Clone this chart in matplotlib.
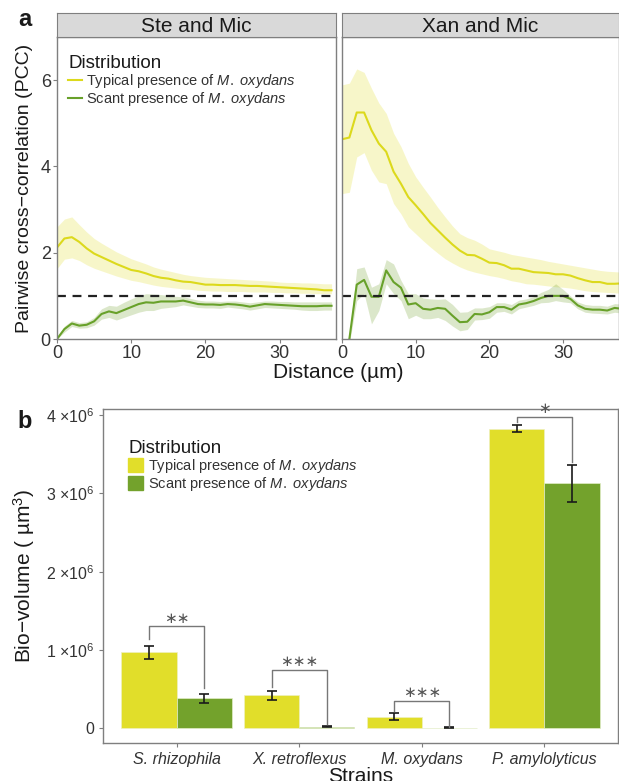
import numpy as np
import matplotlib
matplotlib.use("Agg")
import matplotlib.pyplot as plt
from matplotlib.lines import Line2D
from matplotlib.patches import Patch

plt.rcParams['font.family'] = ['Liberation Sans', 'DejaVu Sans']
plt.rcParams['mathtext.fontset'] = 'custom'
plt.rcParams['mathtext.rm'] = 'Liberation Sans'
plt.rcParams['mathtext.it'] = 'Liberation Sans:italic'

YELLOW = '#e1de2a'
GREEN = '#73a22c'
LINE_Y = '#dcd91c'
LINE_G = '#68a12a'
GRID = '#7f7f7f'
TXT = '#333333'

# ---- panel a data: pairwise cross-correlation vs distance ----
ste_dist = np.arange(0, 38)
ste_typ = [2.12, 2.33, 2.36, 2.25, 2.10, 1.98, 1.90, 1.82, 1.74, 1.67,
           1.60, 1.57, 1.52, 1.46, 1.42, 1.40, 1.36, 1.33, 1.32, 1.29,
           1.26, 1.26, 1.25, 1.25, 1.25, 1.24, 1.23, 1.23, 1.22, 1.21,
           1.20, 1.19, 1.18, 1.17, 1.16, 1.15, 1.13, 1.13]
ste_typ_hi = [2.60, 2.78, 2.83, 2.65, 2.48, 2.33, 2.22, 2.12, 2.02, 1.94,
              1.86, 1.80, 1.74, 1.67, 1.62, 1.58, 1.54, 1.50, 1.47, 1.45,
              1.43, 1.42, 1.41, 1.40, 1.39, 1.38, 1.37, 1.36, 1.35, 1.34,
              1.32, 1.31, 1.31, 1.30, 1.30, 1.29, 1.28, 1.28]
ste_typ_lo = [1.63, 1.85, 1.88, 1.82, 1.72, 1.64, 1.58, 1.52, 1.46, 1.41,
              1.36, 1.33, 1.29, 1.25, 1.22, 1.20, 1.18, 1.16, 1.15, 1.13,
              1.12, 1.11, 1.11, 1.10, 1.10, 1.10, 1.09, 1.09, 1.09, 1.08,
              1.08, 1.07, 1.07, 1.06, 1.06, 1.05, 1.05, 1.05]
ste_sca = [0.00, 0.23, 0.36, 0.31, 0.33, 0.41, 0.58, 0.64, 0.60, 0.67,
           0.74, 0.81, 0.85, 0.84, 0.87, 0.87, 0.87, 0.89, 0.85, 0.81,
           0.80, 0.80, 0.79, 0.81, 0.80, 0.78, 0.75, 0.78, 0.81, 0.80,
           0.79, 0.78, 0.77, 0.76, 0.76, 0.76, 0.77, 0.77]
ste_sca_hi = [0.05, 0.30, 0.43, 0.38, 0.40, 0.50, 0.70, 0.78, 0.76, 0.85,
              0.93, 1.00, 1.05, 1.04, 1.03, 1.01, 0.99, 0.98, 0.94, 0.90,
              0.88, 0.88, 0.87, 0.88, 0.88, 0.86, 0.84, 0.86, 0.88, 0.88,
              0.87, 0.87, 0.86, 0.86, 0.86, 0.86, 0.86, 0.86]
ste_sca_lo = [0.00, 0.16, 0.29, 0.25, 0.26, 0.32, 0.46, 0.50, 0.44, 0.50,
              0.56, 0.62, 0.66, 0.66, 0.71, 0.73, 0.75, 0.79, 0.76, 0.73,
              0.72, 0.72, 0.71, 0.74, 0.72, 0.70, 0.67, 0.70, 0.73, 0.72,
              0.71, 0.70, 0.69, 0.67, 0.66, 0.66, 0.67, 0.67]

xan_dist = np.arange(0, 39)
xan_typ = [4.63, 4.67, 5.25, 5.25, 4.84, 4.53, 4.34, 3.88, 3.60, 3.29,
           3.10, 2.90, 2.69, 2.52, 2.35, 2.19, 2.05, 1.95, 1.94, 1.86,
           1.77, 1.76, 1.71, 1.63, 1.63, 1.59, 1.55, 1.54, 1.53, 1.50,
           1.50, 1.47, 1.41, 1.36, 1.32, 1.32, 1.28, 1.28, 1.29]
xan_typ_hi = [5.89, 5.93, 6.26, 6.18, 5.81, 5.47, 5.23, 4.77, 4.46, 4.07,
              3.76, 3.52, 3.29, 3.05, 2.83, 2.62, 2.44, 2.35, 2.29, 2.20,
              2.09, 2.05, 2.01, 1.96, 1.93, 1.90, 1.87, 1.84, 1.80, 1.77,
              1.74, 1.71, 1.68, 1.65, 1.62, 1.59, 1.57, 1.56, 1.55]
xan_typ_lo = [3.37, 3.40, 4.22, 4.32, 3.91, 3.64, 3.60, 3.14, 2.90, 2.60,
              2.44, 2.28, 2.13, 1.99, 1.86, 1.76, 1.67, 1.60, 1.55, 1.51,
              1.47, 1.44, 1.40, 1.35, 1.32, 1.28, 1.27, 1.25, 1.23, 1.21,
              1.20, 1.18, 1.15, 1.12, 1.10, 1.09, 1.08, 1.07, 1.06]
xan_sca = [-0.60, 0.00, 1.26, 1.37, 0.98, 0.98, 1.59, 1.32, 1.19, 0.80,
           0.83, 0.70, 0.68, 0.72, 0.70, 0.54, 0.39, 0.40, 0.58, 0.57,
           0.62, 0.74, 0.74, 0.68, 0.80, 0.83, 0.88, 0.95, 1.00, 1.00,
           1.00, 0.93, 0.78, 0.70, 0.68, 0.68, 0.66, 0.72, 0.70]
xan_sca_hi = [-0.40, 0.10, 1.63, 1.67, 1.20, 1.28, 1.84, 1.74, 1.36, 1.05,
              1.05, 0.95, 0.93, 0.92, 0.93, 0.80, 0.62, 0.63, 0.72, 0.72,
              0.75, 0.84, 0.84, 0.80, 0.90, 0.93, 0.98, 1.08, 1.15, 1.28,
              1.15, 1.00, 0.86, 0.80, 0.78, 0.78, 0.76, 0.82, 0.81]
xan_sca_lo = [-0.80, -0.10, 0.89, 1.05, 0.35, 0.66, 1.28, 1.05, 0.89, 0.47,
              0.55, 0.47, 0.47, 0.50, 0.43, 0.30, 0.19, 0.22, 0.44, 0.45,
              0.48, 0.62, 0.64, 0.58, 0.70, 0.74, 0.78, 0.84, 0.85, 0.89,
              0.86, 0.84, 0.70, 0.62, 0.60, 0.59, 0.58, 0.62, 0.60]

# ---- panel b data: bio-volume per strain ----
strains = ['S. rhizophila', 'X. retroflexus', 'M. oxydans', 'P. amylolyticus']
typ_vol = [0.97e6, 0.42e6, 0.145e6, 3.83e6]
typ_err = [0.08e6, 0.06e6, 0.045e6, 0.05e6]
sca_vol = [0.38e6, 0.02e6, 0.006e6, 3.13e6]
sca_err = [0.055e6, 0.006e6, 0.003e6, 0.24e6]
signif = ['\u2217\u2217', '\u2217\u2217\u2217', '\u2217\u2217\u2217', '\u2217']
brk_top = [1.30e6, 0.74e6, 0.35e6, 3.98e6]
brk_left = [1.14e6, 0.52e6, 0.22e6, 3.91e6]
brk_right = [0.51e6, 0.05e6, 0.02e6, 3.40e6]

W, H = 619, 781
fig = plt.figure(figsize=(W / 100, H / 100), dpi=100)


def px_axes(x0, y0, x1, y1):
    return fig.add_axes([x0 / W, 1 - y1 / H, (x1 - x0) / W, (y1 - y0) / H])


def style_axes(ax):
    for s in ax.spines.values():
        s.set_color(GRID)
        s.set_linewidth(1.0)
    ax.tick_params(colors=GRID, labelcolor=TXT, length=3, width=0.8)


# ---- panel a ----
panels = [
    ('Ste and Mic', ste_dist, ste_typ, ste_typ_lo, ste_typ_hi, ste_sca, ste_sca_lo, ste_sca_hi, 57, 336),
    ('Xan and Mic', xan_dist, xan_typ, xan_typ_lo, xan_typ_hi, xan_sca, xan_sca_lo, xan_sca_hi, 342, 619),
]
axes_a = []
for title, d, t, tlo, thi, s, slo, shi, x0, x1 in panels:
    ax = px_axes(x0, 37, x1, 339)
    axes_a.append(ax)
    ax.fill_between(d, tlo, thi, color=YELLOW, alpha=0.25, lw=0)
    ax.fill_between(d, slo, shi, color=GREEN, alpha=0.25, lw=0)
    ax.plot(d, t, color=LINE_Y, lw=1.5)
    ax.plot(d, s, color=LINE_G, lw=1.5)
    ax.axhline(1, color='#222222', lw=1.6, ls=(0, (4, 3)))
    ax.set_xlim(0, 37.6)
    ax.set_ylim(0, 7)
    ax.set_xticks([0, 10, 20, 30])
    ax.set_yticks([0, 2, 4, 6])
    style_axes(ax)
    ax.tick_params(labelsize=13, pad=1.5)
    # strip
    sx = px_axes(x0, 13, x1, 37)
    sx.set_facecolor('#d9d9d9')
    sx.set_xticks([])
    sx.set_yticks([])
    for sp in sx.spines.values():
        sp.set_color(GRID)
    sx.text(0.5, 0.45, title, ha='center', va='center', fontsize=15, color='#1a1a1a',
            transform=sx.transAxes)

axes_a[1].set_yticklabels([])
axes_a[1].tick_params(axis='y', length=0)
axes_a[0].set_ylabel('Pairwise cross\u2212correlation (PCC)', fontsize=14, color='#1a1a1a')
axes_a[0].yaxis.set_label_coords((33 - 57) / 279, 0.5)
fig.text(338 / W, 1 - 372 / H, 'Distance (\u00b5m)', ha='center', va='center', fontsize=15, color='#1a1a1a')

leg_a = axes_a[0].legend(
    handles=[Line2D([], [], color=LINE_Y, lw=1.5), Line2D([], [], color=LINE_G, lw=1.5)],
    labels=['Typical presence of $\\it{M.\\ oxydans}$', 'Scant presence of $\\it{M.\\ oxydans}$'],
    title='Distribution', loc='upper left', bbox_to_anchor=(0.02, 0.96), frameon=False,
    fontsize=10.5, title_fontsize=13.5, handlelength=0.9, handletextpad=0.3, labelspacing=0.0,
    borderaxespad=0)
leg_a._legend_box.align = 'left'
for tx in leg_a.get_texts():
    tx.set_color(TXT)
leg_a.get_title().set_color('#1a1a1a')

fig.text(25 / W, 1 - 19 / H, 'a', fontsize=17, fontweight='bold', ha='center', va='center', color='#1a1a1a')

# ---- panel b ----
axb = px_axes(103, 409, 618, 743)
xpos = np.arange(1, len(strains) + 1)
bw = 0.45
axb.bar(xpos - bw / 2, typ_vol, width=bw, color=YELLOW, edgecolor='#eef0c0', lw=0.5)
axb.bar(xpos + bw / 2, sca_vol, width=bw, color=GREEN, edgecolor='#e3edc8', lw=0.5)
axb.errorbar(xpos - bw / 2, typ_vol, yerr=typ_err, fmt='none', ecolor='#1a1a1a', elinewidth=1.2, capsize=3.5, capthick=1.2)
axb.errorbar(xpos + bw / 2, sca_vol, yerr=sca_err, fmt='none', ecolor='#1a1a1a', elinewidth=1.2, capsize=3.5, capthick=1.2)
for i, xc in enumerate(xpos):
    xl, xr = xc - bw / 2, xc + bw / 2
    axb.plot([xl, xl, xr, xr], [brk_left[i], brk_top[i], brk_top[i], brk_right[i]],
             color='#777777', lw=1.0)
    axb.text(xc, brk_top[i] + 0.01e6, signif[i], ha='center', va='bottom', fontsize=11,
             color='#555555', family=['DejaVu Sans'])
axb.set_xlim(0.4, 4.6)
axb.set_ylim(-0.19e6, 4.08e6)
axb.set_xticks(xpos)
axb.set_xticklabels(strains, fontstyle='italic', fontsize=11.5)
axb.set_yticks([0, 1e6, 2e6, 3e6, 4e6])
axb.set_yticklabels(['0', '1 \u00d710$^6$', '2 \u00d710$^6$', '3 \u00d710$^6$', '4 \u00d710$^6$'], fontsize=11.5)
style_axes(axb)
axb.set_ylabel('Bio\u2212volume ( \u00b5m$^3$)', fontsize=15, color='#1a1a1a')
axb.yaxis.set_label_coords((37 - 103) / 515, 0.5)
axb.set_xlabel('Strains', fontsize=15, color='#1a1a1a', labelpad=0)

leg_b = axb.legend(
    handles=[Patch(color=YELLOW), Patch(color=GREEN)],
    labels=['Typical presence of $\\it{M.\\ oxydans}$', 'Scant presence of $\\it{M.\\ oxydans}$'],
    title='Distribution', loc='upper left', bbox_to_anchor=(0.038, 0.925), frameon=False,
    fontsize=10.5, title_fontsize=13.5, handlelength=1.0, handleheight=1.05, handletextpad=0.35,
    labelspacing=0.0, borderaxespad=0)
leg_b._legend_box.align = 'left'
for tx in leg_b.get_texts():
    tx.set_color(TXT)
leg_b.get_title().set_color('#1a1a1a')

fig.text(25 / W, 1 - 422 / H, 'b', fontsize=17, fontweight='bold', ha='center', va='center', color='#1a1a1a')

fig.savefig('out.png', dpi=100)
